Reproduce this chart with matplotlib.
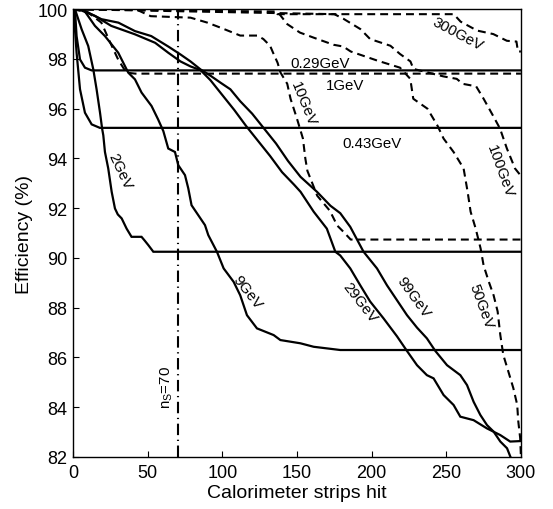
import matplotlib
matplotlib.use("Agg")
import matplotlib.pyplot as plt

plt.rcParams['font.family'] = ['Liberation Sans', 'DejaVu Sans']

# ---------------- data ----------------
# solid curves
x_029 = [0, 1.3, 2.4, 4.7, 8, 12.5, 300]
y_029 = [100, 100, 98.92, 97.98, 97.65, 97.54, 97.54]

x_043 = [0, 0.5, 2.4, 4.7, 8, 12.5, 18, 300]
y_043 = [100, 99.9, 98.25, 96.78, 95.84, 95.37, 95.23, 95.23]

x_2 = [0, 1.3, 5.8, 10.2, 13.6, 15.8, 18.1, 19.5, 20.3, 21.4, 23.6, 25.9, 28.1, 30,
       32.6, 35.9, 39.2, 45.9, 48, 50.4, 53.8, 300]
y_2 = [100, 100, 99.19, 98.52, 97.58, 96.78, 95.84, 95.2, 94.93, 94.26, 93.6, 92.66,
       91.99, 91.75, 91.59, 91.18, 90.85, 90.85, 90.7, 90.52, 90.25, 90.25]

x_9 = [0, 6.9, 14.7, 21.4, 30.3, 37, 41.5, 45.9, 52.6, 57, 60.5, 63.8, 68.3, 70.5, 75,
       77.2, 79.4, 83.9, 88.4, 90.6, 96.4, 100.9, 107.6, 112, 116.5, 123.2, 134.4,
       138.9, 152.3, 161.2, 179, 300]
y_9 = [100, 100, 99.33, 98.92, 98.25, 97.45, 97.18, 96.65, 96.11, 95.57, 95.1, 94.4,
       94.26, 93.73, 93.33, 92.8, 92.12, 91.72, 91.32, 90.92, 90.25, 89.58, 89.04,
       88.5, 87.7, 87.17, 86.9, 86.7, 86.57, 86.43, 86.3, 86.3]

x_29 = [0, 3.5, 14.7, 25.6, 41.5, 55, 63.8, 72, 78.7, 85.4, 92, 100, 108, 116, 124,
        132, 140, 148, 152.4, 161.2, 170, 175.7, 179, 185.7, 192.4, 199, 208, 217,
        223.7, 230.4, 237, 241.5, 248.2, 254.9, 259.4, 268.3, 277.2, 286.2, 292.8, 300]
y_29 = [100, 100, 99.73, 99.33, 98.99, 98.65, 98.25, 97.9, 97.7, 97.55, 97.15, 96.55,
        95.95, 95.3, 94.7, 94.1, 93.45, 92.95, 92.66, 91.86, 91.18, 90.25, 90.1, 89.58,
        88.9, 88.25, 87.57, 86.85, 86.26, 85.69, 85.29, 85.16, 84.49, 84.09, 83.62,
        83.48, 83.15, 82.88, 82.62, 82.64]

x_99 = [0, 5.6, 19, 30.4, 41.5, 52.4, 63.8, 72, 78.7, 85.4, 92, 98.7, 105.4, 112, 120,
        128, 136, 144, 152.4, 163.4, 172.4, 179, 185.7, 194.6, 203.6, 210.3, 217,
        223.7, 230.4, 237, 242.7, 250.5, 259.4, 263.9, 268.3, 272.8, 277.3, 281.7,
        286.2, 290.7, 293, 296]
y_99 = [100, 100, 99.6, 99.46, 99.12, 98.92, 98.5, 98.18, 97.9, 97.58, 97.33, 97.05,
        96.78, 96.3, 95.8, 95.2, 94.6, 93.9, 93.26, 92.66, 92.1, 91.8, 91.25, 90.25,
        89.58, 88.9, 88.3, 87.7, 87.2, 86.77, 86.26, 85.69, 85.29, 84.89, 84.22, 83.69,
        83.28, 83.02, 82.62, 82.35, 82.0, 81.7]

# dashed curves
x_1 = [0, 10.3, 19, 25, 30.3, 35.7, 41.7, 300]
y_1 = [100, 99.86, 99.46, 98.65, 97.97, 97.45, 97.41, 97.41]

x_10 = [0, 42, 52, 78.7, 90, 98.7, 112, 123.5, 127.5, 132, 134, 137, 139, 143.5, 145.7,
        150, 154, 155.6, 157, 163.6, 172, 177, 181, 186, 300]
y_10 = [100, 100, 99.72, 99.66, 99.46, 99.26, 98.94, 98.94, 98.8, 98.53, 98.25, 97.85,
        97.45, 97.0, 96.4, 95.6, 94.8, 94.0, 93.5, 92.5, 91.9, 91.3, 91.06, 90.74, 90.74]

x_50 = [0, 137, 143.5, 152, 161, 174.5, 181, 186, 204, 219, 225.9, 227.9, 237.4, 244.1,
        248.2, 254.9, 261.6, 264.3, 266.3, 269.7, 273, 275, 278.4, 281.7, 284.4, 286.2,
        288.2, 291.5, 294.9, 297.5, 298.2, 299.5, 300]
y_50 = [100, 99.9, 99.4, 99.06, 98.86, 98.57, 98.5, 98.3, 97.93, 97.65, 97.2, 96.4,
        96.0, 95.32, 94.8, 94.26, 93.6, 92.66, 91.86, 91.18, 90.38, 89.7, 89.06, 88.5,
        87.85, 86.9, 86.1, 85.45, 84.77, 84.1, 83.45, 82.76, 82.0]

x_100 = [0, 175, 181, 192.5, 199, 212.6, 219, 226, 228, 248, 257, 261, 270, 275,
         281.5, 286, 290.6, 294, 296, 300]
y_100 = [100, 99.8, 99.62, 99.2, 98.8, 98.53, 98.2, 97.9, 97.6, 97.3, 97.2, 97.0,
         96.9, 96.4, 95.7, 95.2, 94.4, 93.9, 93.6, 93.3]

x_300 = [0, 135, 137, 255, 259.6, 270.7, 281.5, 290.6, 297, 298, 300]
y_300 = [100, 100, 99.8, 99.8, 99.5, 99.14, 99.0, 98.73, 98.7, 98.3, 98.3]

n_s = 70

labels = ['300GeV', '0.29GeV', '1GeV', '10GeV', '0.43GeV', '100GeV', '2GeV',
          '9GeV', '29GeV', '99GeV', '50GeV']
label_x = [257.4, 165.6, 182.4, 154.3, 200.5, 286.3, 31.7, 116.7, 192.4, 228, 273.5]
label_y = [99.02, 97.85, 96.97, 96.2, 94.64, 93.5, 93.5, 88.65, 88.21, 88.45, 88.1]
label_rot = [-28, 0, 0, -68, 0, -70, -65, -52, -52, -54, -70]

# ---------------- plot ----------------
fig = plt.figure(figsize=(5.53, 5.10), dpi=100)
ax = fig.add_axes([0.132, 0.102, 0.810, 0.878])

solid_kw = dict(color='black', lw=1.6, solid_joinstyle='miter')
dash_kw = dict(color='black', lw=1.5, linestyle=(0, (3.8, 2.4)))

for xs, ys in [(x_029, y_029), (x_043, y_043), (x_2, y_2), (x_9, y_9),
               (x_29, y_29), (x_99, y_99)]:
    ax.plot(xs, ys, **solid_kw)
for xs, ys in [(x_1, y_1), (x_10, y_10), (x_50, y_50), (x_100, y_100), (x_300, y_300)]:
    ax.plot(xs, ys, **dash_kw)

ax.axvline(n_s, color='black', lw=1.5, linestyle=(0, (5.5, 2.2, 0.6, 2.2)))

for t, lx, ly, r in zip(labels, label_x, label_y, label_rot):
    ax.text(lx, ly, t, fontsize=10.8, rotation=r, ha='center', va='center',
            rotation_mode='anchor')
ax.text(62.5, 84.84, r'n$_\mathregular{S}$=70', fontsize=10.8, rotation=90,
        ha='center', va='center', rotation_mode='anchor')

ax.set_xlim(0, 300)
ax.set_ylim(82, 100)
ax.set_xticks([0, 50, 100, 150, 200, 250, 300])
ax.set_yticks([82, 84, 86, 88, 90, 92, 94, 96, 98, 100])
ax.tick_params(direction='in', length=4, width=0.8, labelsize=13)
ax.tick_params(axis='x', pad=5)
ax.tick_params(axis='y', pad=4)
for s in ax.spines.values():
    s.set_linewidth(1.0)
ax.set_xlabel('Calorimeter strips hit', fontsize=14, labelpad=2)
ax.set_ylabel('Efficiency (%)', fontsize=14, labelpad=3)

fig.savefig('out.png', dpi=100)
